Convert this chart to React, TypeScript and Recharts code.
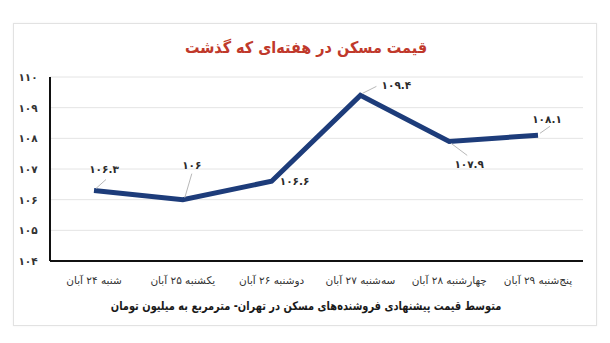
import React from "react";
import { LineChart, Line, XAxis, YAxis, CartesianGrid } from "recharts";

const days = [
  "شنبه ۲۴ آبان",
  "یکشنبه ۲۵ آبان",
  "دوشنبه ۲۶ آبان",
  "سه‌شنبه ۲۷ آبان",
  "چهارشنبه ۲۸ آبان",
  "پنج‌شنبه ۲۹ آبان",
];
const prices = [106.3, 106, 106.6, 109.4, 107.9, 108.1];
const yTicks = [104, 105, 106, 107, 108, 109, 110];

const title = "قیمت مسکن در هفته‌ای که گذشت";
const subtitle = "متوسط قیمت پیشنهادی فروشنده‌های مسکن در تهران- مترمربع به میلیون تومان";

const data = days.map((day, i) => ({ day, price: prices[i] }));

const FONT = "DejaVu Sans, sans-serif";

const toFa = (v: number | string) =>
  String(v).replace(/[0-9]/g, (d) => "۰۱۲۳۴۵۶۷۸۹"[Number(d)]);

// label placement relative to each point: text offset and leader end
const labelOffsets = [
  { tx: 10, ty: -21, lx: 12, ly: -11 },
  { tx: 9, ty: -35, lx: 9, ly: -26 },
  { tx: 23, ty: 0, lx: 0, ly: 0 },
  { tx: 36, ty: -10, lx: 16, ly: -9 },
  { tx: 20, ty: 23, lx: 18, ly: 14 },
  { tx: 9, ty: -16, lx: 12, ly: -9 },
];

function PointLabel(props: any) {
  const { x, y, index, value } = props;
  const o = labelOffsets[index] || { tx: 0, ty: -12, lx: 0, ly: 0 };
  return (
    <g>
      {(o.lx !== 0 || o.ly !== 0) && (
        <line
          x1={x + Math.sign(o.lx) * 2}
          y1={y + Math.sign(o.ly) * 2}
          x2={x + o.lx}
          y2={y + o.ly}
          stroke="#b8b8b8"
          strokeWidth={1}
        />
      )}
      <text
        x={x + o.tx}
        y={y + o.ty}
        textAnchor="middle"
        dominantBaseline="central"
        fontFamily={FONT}
        fontSize={10.5}
        fontWeight="bold"
        fill="#2b2b2b"
      >
        {toFa(value)}
      </text>
    </g>
  );
}

function YTick(props: any) {
  const { y, payload } = props;
  return (
    <text
      x={28}
      y={y}
      textAnchor="middle"
      dominantBaseline="central"
      fontFamily={FONT}
      fontSize={10.5}
      fontWeight="bold"
      fill="#333"
    >
      {toFa(payload.value)}
    </text>
  );
}

function XTick(props: any) {
  const { x, y, payload } = props;
  return (
    <text
      x={x}
      y={y + 11}
      textAnchor="middle"
      dominantBaseline="central"
      direction="rtl"
      fontFamily={FONT}
      fontSize={10.5}
      fill="#333"
    >
      {payload.value}
    </text>
  );
}

export default function App() {
  return (
    <div
      style={{
        position: "absolute",
        left: 0,
        top: 0,
        width: 610,
        height: 343,
        background: "#fff",
        fontFamily: FONT,
      }}
    >
      <div
        style={{
          position: "absolute",
          left: 13,
          top: 23,
          width: 582,
          height: 301,
          border: "1px solid #e2e2e2",
          boxShadow: "0 0 2px rgba(0,0,0,0.06)",
        }}
      />
      <div
        dir="rtl"
        style={{
          position: "absolute",
          left: 0,
          width: 612,
          top: 36,
          textAlign: "center",
          color: "#c0392b",
          fontSize: 16,
          fontWeight: "bold",
          lineHeight: "24px",
          transform: "scaleX(0.9)",
        }}
      >
        {title}
      </div>
      <div style={{ position: "absolute", left: 0, top: 0 }}>
        <LineChart
          width={610}
          height={343}
          data={data}
          margin={{ top: 77, right: 27, left: 0, bottom: 52 }}
        >
          <CartesianGrid vertical={false} stroke="#e4e4e4" strokeWidth={1} />
          <XAxis
            dataKey="day"
            axisLine={{ stroke: "#111", strokeWidth: 2 }}
            tickLine={false}
            tick={<XTick />}
            height={30}
            interval={0}
            padding={{ left: 44, right: 45 }}
          />
          <YAxis
            domain={[104, 110]}
            ticks={yTicks}
            axisLine={{ stroke: "#111", strokeWidth: 2 }}
            tickLine={false}
            tick={<YTick />}
            width={50}
          />
          <Line
            type="linear"
            dataKey="price"
            stroke="#1d3c7a"
            strokeWidth={5}
            dot={false}
            activeDot={false}
            isAnimationActive={false}
            label={<PointLabel />}
          />
        </LineChart>
      </div>
      <div
        dir="rtl"
        style={{
          position: "absolute",
          left: 0,
          width: 612,
          top: 296,
          textAlign: "center",
          color: "#1a1a1a",
          fontSize: 12,
          fontWeight: "bold",
          lineHeight: "20px",
          transform: "scaleX(0.82)",
        }}
      >
        {subtitle}
      </div>
    </div>
  );
}
